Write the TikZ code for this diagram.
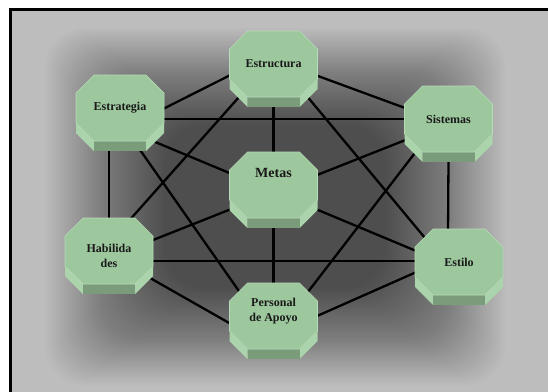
\documentclass[tikz,border=0pt]{standalone}
\usepackage{fontspec}
\setmainfont{Liberation Serif}

\definecolor{facegreen}{RGB}{157,199,157}
\definecolor{sidegreen}{RGB}{172,212,172}
\definecolor{bottomgreen}{RGB}{122,156,122}
\definecolor{rimgreen}{RGB}{184,220,184}
\definecolor{bggrey}{RGB}{189,189,189}

\pgfdeclarelayer{shadow}
\pgfdeclarelayer{lines}
\pgfsetlayers{shadow,lines,main}

\tikzset{
  octatext/.style={font=\bfseries\fontsize{12}{15}\selectfont,align=center,inner sep=0pt,text=black!90},
  link/.style={line width=2.3pt,black},
}

% octagon with its lower sides pushed down
\newcommand{\octa}[4][]{%
  \begin{scope}[shift={#2}]
    \fill[sidegreen] (-44,15) -- (-26,33) -- (-26,43) -- (-44,25) -- cycle;
    \fill[sidegreen] (44,15) -- (26,33) -- (26,43) -- (44,25) -- cycle;
    \fill[bottomgreen] (-26,33) -- (26,33) -- (26,43) -- (-26,43) -- cycle;
    \filldraw[fill=facegreen,draw=rimgreen,line width=0.6pt]
      (-26,-33) -- (26,-33) -- (44,-15) -- (44,15) -- (26,33) -- (-26,33) -- (-44,15) -- (-44,-15) -- cycle;
  \end{scope}
  \coordinate (#3) at #2;
  \node[octatext,#1] (#3 text) at #2 {#4};
}

\begin{document}
\begin{tikzpicture}[x=1pt,y=-1pt]
    \useasboundingbox (0,0) rectangle (548,391);
    \clip (0,0) rectangle (548,391);

    \begin{pgfonlayer}{shadow}
      \fill[bggrey] (10,9) rectangle (560,400);
      \foreach \i in {0,...,44} {
        \fill[black,opacity=0.016,rounded corners=40pt]
          ({45+2.7*\i},{28+2.2*\i}) rectangle ({505-2.7*\i},{385-2.2*\i});
      }
      \draw[line width=3.5pt] (10.5,400) -- (10.5,9.5) -- (560,9.5);
    \end{pgfonlayer}

    \octa{(273.5,64)}{estructura}{Estructura}
    \octa{(120,108)}{estrategia}{Estrategia}
    \octa{(448.5,119)}{sistemas}{Sistemas}
    \octa[font=\bfseries\fontsize{14}{16}\selectfont,yshift=12pt]{(273.5,185)}{metas}{Metas}
    \octa[yshift=-5pt]{(109,251)}{habilidades}{Habilida\\des}
    \octa{(459,262)}{estilo}{Estilo}
    \octa[yshift=4.5pt]{(273.5,316)}{personal}{Personal\\de Apoyo}

    \begin{pgfonlayer}{lines}
      \draw[link] ([shift={(-39,9)}]estructura) -- ([shift={(39,3)}]estrategia);
      \draw[link] ([shift={(39,10)}]estructura) -- ([shift={(-38,-9)}]sistemas);
      \draw[link] (estructura) -- (personal);
      \draw[link] ([shift={(-30,28)}]estructura) -- ([shift={(18,-28)}]habilidades);
      \draw[link] ([shift={(30,28)}]estructura) -- ([shift={(-29,-18)}]estilo);
      \draw[link] ([shift={(40,11)}]estrategia) -- ([shift={(-40,0)}]sistemas);
      \draw[link] ([shift={(28,31)}]estrategia) -- ([shift={(-38,-9)}]estilo);
      \draw[link] ([shift={(-11,35)}]estrategia) -- ([shift={(0,-25)}]habilidades);
      \draw[link] ([shift={(18,39)}]estrategia) -- ([shift={(-29,-17)}]personal);
      \draw[link] ([shift={(-38,19)}]sistemas) -- ([shift={(39,-9)}]habilidades);
      \draw[link] ([shift={(0,40)}]sistemas) -- ([shift={(-11,-27)}]estilo);
      \draw[link] ([shift={(-29,28)}]sistemas) -- ([shift={(29,-17)}]personal);
      \draw[link] ([shift={(40,10)}]habilidades) -- ([shift={(-40,-1)}]estilo);
      \draw[link] ([shift={(27,19)}]habilidades) -- ([shift={(-39,10)}]personal);
      \draw[link] ([shift={(-38,8)}]estilo) -- ([shift={(39,2)}]personal);
    \end{pgfonlayer}

\end{tikzpicture}
\end{document}
